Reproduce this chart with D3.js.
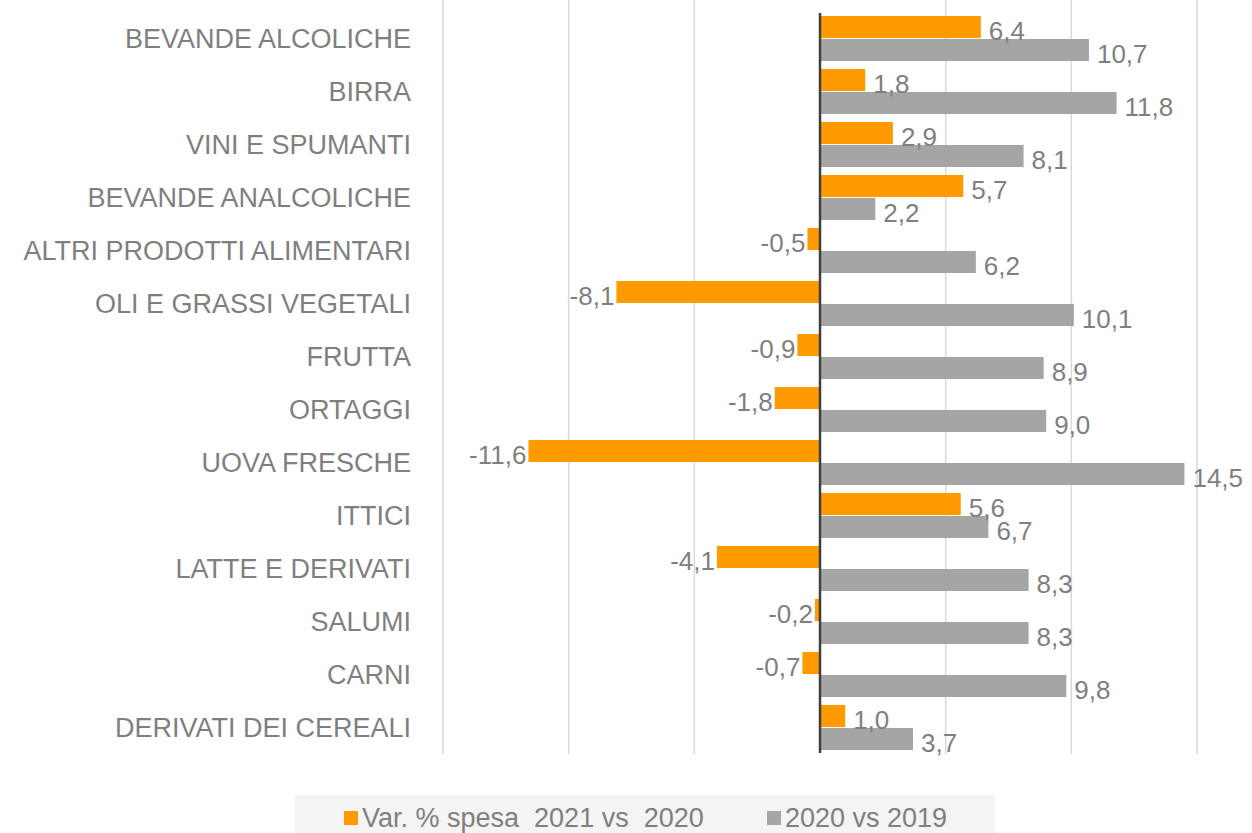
<!DOCTYPE html>
<html>
<head>
<meta charset="utf-8">
<script src="https://cdn.jsdelivr.net/npm/d3@7"></script>
<style>
    body { margin: 0; background: #ffffff; }
    svg { display: block; font-family: 'Liberation Sans', Arial, sans-serif; }
</style>
</head>
<body>
<svg id="chart" width="1252" height="833"></svg>
<script>
let categories = [
    'BEVANDE ALCOLICHE', 'BIRRA', 'VINI E SPUMANTI', 'BEVANDE ANALCOLICHE',
    'ALTRI PRODOTTI ALIMENTARI', 'OLI E GRASSI VEGETALI', 'FRUTTA', 'ORTAGGI',
    'UOVA FRESCHE', 'ITTICI', 'LATTE E DERIVATI', 'SALUMI', 'CARNI', 'DERIVATI DEI CEREALI'
];
let var2021 = [6.4, 1.8, 2.9, 5.7, -0.5, -8.1, -0.9, -1.8, -11.6, 5.6, -4.1, -0.2, -0.7, 1.0];
let var2020 = [10.7, 11.8, 8.1, 2.2, 6.2, 10.1, 8.9, 9.0, 14.5, 6.7, 8.3, 8.3, 9.8, 3.7];
let series_names = ['Var. % spesa  2021 vs  2020', '2020 vs 2019'];
let colors = ['#ff9a00', '#a5a5a5'];
let grid_ticks = [-15, -10, -5, 5, 10, 15];

function fmt(v) {
    return v.toFixed(1).replace('.', ',');
}

function add_graph(selector) {
    let svg = d3.select(selector);

    let x = d3.scaleLinear().domain([-15, 15]).range([443, 1197]);
    let y = d3.scaleBand().domain(categories).range([12, 754]).paddingInner(0.15).paddingOuter(0.075);
    let sub = d3.scaleBand().domain([0, 1]).range([0, y.bandwidth()]).paddingInner(0.04);

    // vertical gridlines
    svg.append('g')
        .selectAll('line')
        .data(grid_ticks)
        .enter().append('line')
        .attr('x1', d => x(d)).attr('x2', d => x(d))
        .attr('y1', 0).attr('y2', 754)
        .attr('stroke', '#d9d9d9')
        .attr('stroke-width', 1.5);

    let rows = categories.map(function (c, i) {
        return { cat: c, vals: [var2021[i], var2020[i]] };
    });

    let row = svg.selectAll('.row')
        .data(rows)
        .enter().append('g')
        .attr('class', 'row')
        .attr('transform', d => 'translate(0,' + y(d.cat) + ')');

    row.selectAll('rect')
        .data(d => d.vals)
        .enter().append('rect')
        .attr('x', d => x(Math.min(0, d)))
        .attr('y', (d, i) => sub(i))
        .attr('width', d => Math.abs(x(d) - x(0)))
        .attr('height', sub.bandwidth())
        .attr('fill', (d, i) => colors[i]);

    row.selectAll('text.val')
        .data(d => d.vals)
        .enter().append('text')
        .attr('class', 'val')
        .attr('x', d => d < 0 ? x(d) - 2 : x(d) + 8)
        .attr('y', (d, i) => sub(i) + sub.bandwidth() / 2 + 4)
        .attr('dy', '0.35em')
        .attr('text-anchor', d => d < 0 ? 'end' : 'start')
        .attr('fill', '#7f7f7f')
        .style('font-size', '26px')
        .text(d => fmt(d));

    // category labels
    svg.append('g')
        .selectAll('text')
        .data(categories)
        .enter().append('text')
        .attr('x', 411)
        .attr('y', d => y(d) + y.bandwidth() / 2)
        .attr('dy', '0.35em')
        .attr('text-anchor', 'end')
        .attr('fill', '#7f7f7f')
        .style('font-size', '27px')
        .text(d => d);

    // zero axis
    svg.append('line')
        .attr('x1', x(0)).attr('x2', x(0))
        .attr('y1', 13).attr('y2', 753)
        .attr('stroke', '#404040')
        .attr('stroke-width', 2.5);

    // legend
    let legend = svg.append('g');
    legend.append('rect')
        .attr('x', 295).attr('y', 795)
        .attr('width', 700).attr('height', 40)
        .attr('fill', '#f4f4f4');
    let legend_x = [344, 767];
    let item = legend.selectAll('.item')
        .data(series_names)
        .enter().append('g')
        .attr('class', 'item')
        .attr('transform', (d, i) => 'translate(' + legend_x[i] + ',818)');
    item.append('rect')
        .attr('x', 0).attr('y', -7)
        .attr('width', 14).attr('height', 14)
        .attr('fill', (d, i) => colors[i]);
    item.append('text')
        .attr('x', 18)
        .attr('dy', '0.35em')
        .attr('fill', '#7f7f7f')
        .style('font-size', '27px')
        .style('white-space', 'pre')
        .text(d => d);
}

add_graph('#chart');
</script>
</body>
</html>
